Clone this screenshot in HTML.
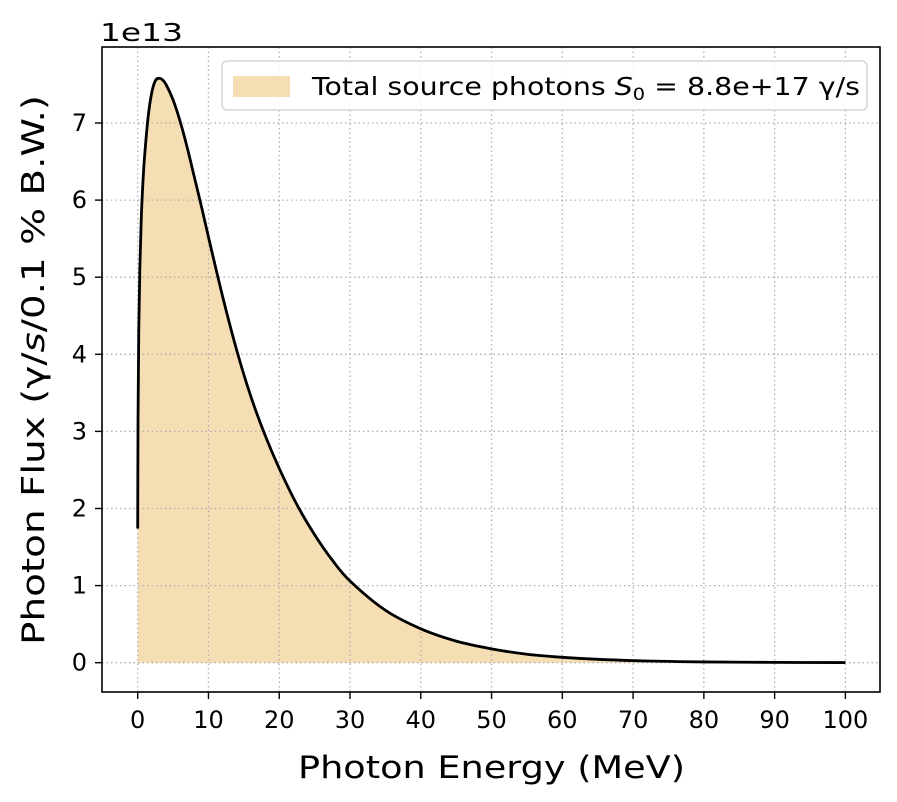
<!DOCTYPE html>
<html><head><meta charset="utf-8">
<style>
body{margin:0;background:#fff;}
svg{display:block;font-family:"DejaVu Sans","Liberation Sans",sans-serif;}
</style></head>
<body>
<svg id="chart" width="897" height="802">
<g id="grid"></g>
<g id="plot"></g>
<g id="axes"></g>
</svg>
<script>
const energies = [0,0.05,0.15,0.3,0.5,0.75,1,1.5,2,2.5,3,3.5,4,5,6,7,8,9,10,12,14,16,18,20,22.5,25,27.5,30,35,40,45,50,55,60,65,70,75,80,90,100];
const flux = [1.74,3.2,4.3,5.1,5.75,6.25,6.6,7.1,7.4,7.55,7.58,7.56,7.5,7.3,7.02,6.68,6.3,5.92,5.52,4.75,4.05,3.45,2.95,2.52,2.05,1.66,1.33,1.06,0.68,0.44,0.28,0.18,0.11,0.07,0.044,0.027,0.017,0.01,0.004,0.0015];
const xTicks = [0,10,20,30,40,50,60,70,80,90,100];
const yTicks = [0,1,2,3,4,5,6,7];

const NS="http://www.w3.org/2000/svg";
const L=102,R=880,T=47,B=692;
const X=v=>137.7+v*7.077;
const Y=v=>662.7-v*77.1;
function mk(tag,attrs,parent,text){const e=document.createElementNS(NS,tag);for(const k in attrs)e.setAttribute(k,attrs[k]);if(text!==undefined)e.textContent=text;parent.appendChild(e);return e;}
const grid=document.getElementById('grid'),plot=document.getElementById('plot'),axes=document.getElementById('axes');

const pts=energies.map((e,i)=>[X(e),Y(flux[i])]);
function smooth(p){let s='M'+p[0][0].toFixed(2)+','+p[0][1].toFixed(2);
for(let i=0;i<p.length-1;i++){const p0=p[Math.max(0,i-1)],p1=p[i],p2=p[i+1],p3=p[Math.min(p.length-1,i+2)];
const c1=[p1[0]+(p2[0]-p0[0])/6,p1[1]+(p2[1]-p0[1])/6],c2=[p2[0]-(p3[0]-p1[0])/6,p2[1]-(p3[1]-p1[1])/6];
s+=' C'+c1[0].toFixed(2)+','+c1[1].toFixed(2)+' '+c2[0].toFixed(2)+','+c2[1].toFixed(2)+' '+p2[0].toFixed(2)+','+p2[1].toFixed(2);}
return s;}
const curve=smooth(pts);
const d='M'+X(energies[0])+','+Y(0)+' L'+curve.slice(1)+' L'+X(energies[energies.length-1])+','+Y(0)+' Z';
const fill=mk('path',{d:d,fill:'#f5deb3',stroke:'none'},plot);



xTicks.forEach(t=>{const g=mk('line',{x1:X(t),x2:X(t),y1:T,y2:B,stroke:'#b0b0b0','stroke-width':1.3,'stroke-dasharray':'1.5,3'},grid);
});
yTicks.forEach(t=>{const g=mk('line',{x1:L,x2:R,y1:Y(t),y2:Y(t),stroke:'#b0b0b0','stroke-width':1.3,'stroke-dasharray':'1.5,3'},grid);
});
plot.after(grid);

const line=mk('path',{d:curve,fill:'none',stroke:'#000','stroke-width':2.8,'stroke-linejoin':'round'},axes);



const fr=mk('rect',{x:L,y:T,width:R-L,height:B-T,fill:'none',stroke:'#000','stroke-width':1.6},axes);


xTicks.forEach(t=>{mk('line',{x1:X(t),x2:X(t),y1:B,y2:B+7,stroke:'#000','stroke-width':1.4},axes);
const tx=mk('text',{x:X(t),y:B+36,'font-size':24,'text-anchor':'middle'},axes,String(t));
});
yTicks.forEach(t=>{mk('line',{x1:L-7,x2:L,y1:Y(t),y2:Y(t),stroke:'#000','stroke-width':1.4},axes);
const tx=mk('text',{x:L-15,y:Y(t)+8,'font-size':24,'text-anchor':'end'},axes,String(t));
});
</script>
<svg style="position:absolute;left:0;top:0" width="897" height="802">
<text x="100" y="41" font-size="25" textLength="83" lengthAdjust="spacingAndGlyphs" font-family="DejaVu Sans,sans-serif">1e13</text>
<text x="298" y="778" font-size="31" textLength="387" lengthAdjust="spacingAndGlyphs" font-family="DejaVu Sans,sans-serif">Photon Energy (MeV)</text>
<text transform="translate(44,645) rotate(-90)" font-size="31" textLength="550" lengthAdjust="spacingAndGlyphs" font-family="DejaVu Sans,sans-serif">Photon Flux (γ/<tspan font-style="italic">s</tspan>/0.1 % B.W.)</text>
<g>
<rect x="222" y="61" width="645" height="49" rx="5" fill="#fff" fill-opacity="0.85" stroke="#d5d5d5" stroke-width="1.5"/>
<rect x="233" y="76" width="57" height="21" fill="#f5deb3"/>
<text x="312" y="95" font-size="25" textLength="548" lengthAdjust="spacingAndGlyphs" font-family="DejaVu Sans,sans-serif">Total source photons <tspan font-style="italic">S</tspan><tspan font-size="17" dy="5">0</tspan><tspan dy="-5"> = 8.8e+17 γ/s</tspan></text>
</g>
</svg>
</body></html>
